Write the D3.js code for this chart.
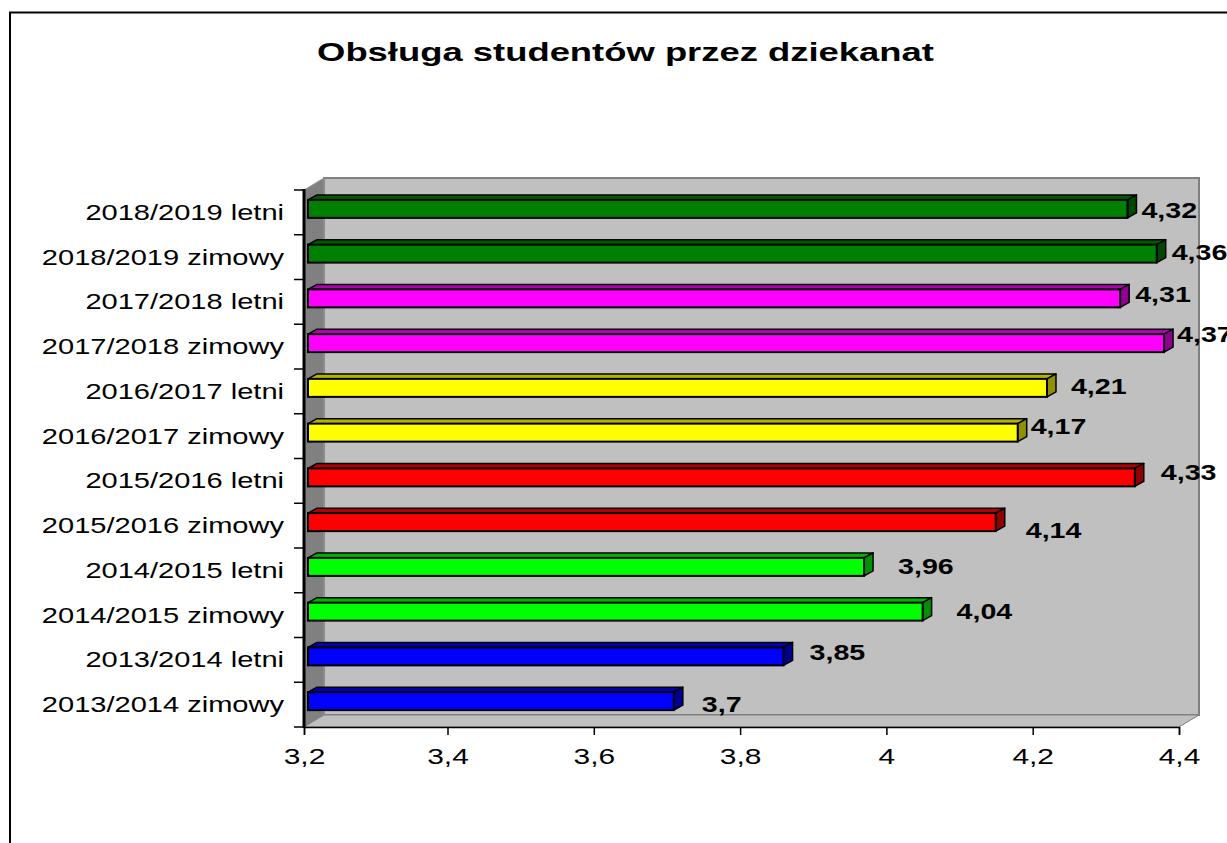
<!DOCTYPE html>
<html><head><meta charset="utf-8">
<script src="https://cdn.jsdelivr.net/npm/d3@7"></script>
<style>html,body{margin:0;background:#fff}svg{display:block}text{font-family:"Liberation Sans",Arial,sans-serif;fill:#000}</style>
</head><body><svg id="c" width="1227" height="843"></svg>
<script>
const categories=["2013/2014 zimowy","2013/2014 letni","2014/2015 zimowy","2014/2015 letni","2015/2016 zimowy","2015/2016 letni","2016/2017 zimowy","2016/2017 letni","2017/2018 zimowy","2017/2018 letni","2018/2019 zimowy","2018/2019 letni"];
const values=[3.7,3.85,4.04,3.96,4.14,4.33,4.17,4.21,4.37,4.31,4.36,4.32];
const labelTexts=["3,7","3,85","4,04","3,96","4,14","4,33","4,17","4,21","4,37","4,31","4,36","4,32"];
const groupColors=["#0000ff","#0000ff","#00ff00","#00ff00","#ff0000","#ff0000","#ffff00","#ffff00","#ff00ff","#ff00ff","#008000","#008000"];
const xTicks=[3.2,3.4,3.6,3.8,4,4.2,4.4];
const title="Obsługa studentów przez dziekanat";
// hand-placed data-label offsets, as in the source chart
const labelDx=[23,21,29,29,25,21,8,19,8,10,10,9];
const labelDy=[4,-3,0,0,9,-4,-6,-1,-8,-3,-1,2];

const svg=d3.select("#c");
const L=304,R=1179,T=190,B=727,DX=20,DY=12;
// the source's first tick interval is rasterised slightly narrower than the rest
const x=d3.scaleLinear().domain([3.2,3.4,4.4]).range([L,447.5,R]);
const xb=d3.scaleLinear().domain([3.2,4.4]).range([L+4,R+7]);
const y=d3.scaleBand().domain(categories.slice().reverse()).range([T,B]);
const stretch=(sel,k)=>sel.each(function(){this.setAttribute("textLength",this.getComputedTextLength()*k);this.setAttribute("lengthAdjust","spacingAndGlyphs");});

// frame
svg.append("path").attr("d","M10,843V12.5H1227").attr("fill","none").attr("stroke","#000").attr("stroke-width",2);
// title
svg.append("text").attr("x",625.5).attr("y",61).attr("text-anchor","middle").attr("font-size",26).attr("font-weight","700").text(title).call(stretch,1.40);
// walls
const pts=a=>a.map(p=>p.join(",")).join(" ");
svg.append("polygon").attr("points",pts([[L+DX,T-DY],[R+DX,T-DY],[R+DX,B-DY],[L+DX,B-DY]])).attr("fill","#c0c0c0").attr("stroke","#808080").attr("stroke-width",2);
svg.append("polygon").attr("points",pts([[L,T],[L+DX,T-DY],[L+DX,B-DY],[L,B]])).attr("fill","#808080").attr("stroke","#999").attr("stroke-width",1);
svg.append("polygon").attr("points",pts([[L,B],[L+DX,B-DY],[R+DX,B-DY],[R,B]])).attr("fill","#c0c0c0").attr("stroke","#808080").attr("stroke-width",1);

// bars
const D=[9,5],H=18;
const rows=categories.map((c,i)=>({c,v:values[i],t:labelTexts[i],col:groupColors[i],dx:labelDx[i],dy:labelDy[i]}));
const g=svg.append("g").selectAll("g").data(rows).join("g");
const ty=d=>y(d.c)+y.bandwidth()/2-3.5-H/2;
g.append("polygon").attr("points",d=>{const a=xb(3.2),b=xb(d.v),t=ty(d);return pts([[a,t],[a+D[0],t-D[1]],[b+D[0],t-D[1]],[b,t]]);})
 .attr("fill",d=>d3.color(d.col).darker(1.0)).attr("stroke","#000").attr("stroke-width",1.5).attr("stroke-linejoin","round");
g.append("polygon").attr("points",d=>{const b=xb(d.v),t=ty(d);return pts([[b,t],[b+D[0],t-D[1]],[b+D[0],t+H-D[1]],[b,t+H]]);})
 .attr("fill",d=>d3.color(d.col).darker(1.6)).attr("stroke","#000").attr("stroke-width",1.5).attr("stroke-linejoin","round");
g.append("rect").attr("x",xb(3.2)).attr("y",ty).attr("width",d=>xb(d.v)-xb(3.2)).attr("height",H)
 .attr("fill",d=>d.col).attr("stroke","#000").attr("stroke-width",2);
g.append("text").attr("x",d=>xb(d.v)+D[0]+d.dx-4).attr("y",d=>ty(d)+H/2+7+d.dy)
 .attr("font-size",22).attr("font-weight","700").text(d=>d.t).call(stretch,1.30);

// axes
const yAxis=svg.append("g").attr("transform",`translate(${L},0)`).call(d3.axisLeft(y).tickSizeOuter(0).tickSize(0).tickPadding(20));
yAxis.select(".domain").remove();
yAxis.selectAll("text").attr("font-size",22).attr("fill","#000").attr("font-family","Liberation Sans").attr("dy",null).attr("y",7.5).call(stretch,1.32);
const yEdges=d3.range(categories.length+1).map(i=>T+i*y.step());
svg.append("g").selectAll("line").data(yEdges).join("line").attr("x1",L-10).attr("x2",L).attr("y1",d=>d).attr("y2",d=>d).attr("stroke","#000").attr("stroke-width",1.5);
svg.append("line").attr("x1",L).attr("x2",L).attr("y1",T-1).attr("y2",B+1).attr("stroke","#000").attr("stroke-width",3);
const xAxis=svg.append("g").attr("transform",`translate(0,${B})`).call(d3.axisBottom(x).tickValues(xTicks).tickFormat(d=>String(d).replace(".",",")).tickSizeOuter(0).tickSize(8).tickPadding(13));
xAxis.select(".domain").attr("stroke","#000").attr("stroke-width",1.5);
xAxis.selectAll("line").attr("stroke","#000").attr("stroke-width",1.5);
xAxis.selectAll("text").attr("font-size",22).attr("fill","#000").attr("font-family","Liberation Sans").call(stretch,1.36);
</script></body></html>
